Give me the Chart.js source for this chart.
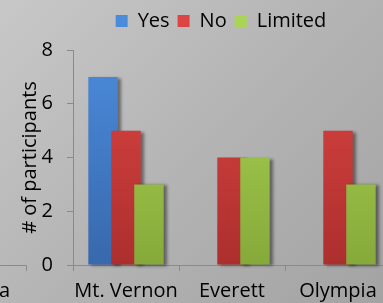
<!DOCTYPE html>
<html>
<head>
<meta charset="utf-8">
<script src="https://cdn.jsdelivr.net/npm/chart.js@4/dist/chart.umd.min.js"></script>
<style>
html,body{margin:0;padding:0;width:383px;height:303px;overflow:hidden;}
body{background:linear-gradient(135deg,#c8c8c8 0%,#b4b4b4 50%,#a3a3a3 100%);}
#wrap{position:absolute;left:0;top:0;width:442px;height:303px;}
</style>
</head>
<body>
<div id="wrap"><canvas id="c" width="442" height="303"></canvas></div>
<script>
const categories = ["Mt. Vernon", "Everett", "Olympia"];
const seriesNames = ["Yes", "No", "Limited"];
const yesValues = [7, 0, 0];
const noValues = [5, 4, 5];
const limitedValues = [3, 4, 3];
const yTicks = [0, 2, 4, 6, 8];

const FONT = "'Open Sans'";
const FSIZE = 20;
const palette = [
  ["#4b8bdb", "#3868ad"],
  ["#dc4543", "#ac2f2e"],
  ["#aad453", "#86aa3a"]
];

function grad(i) {
  return function(ctx) {
    const chart = ctx.chart;
    const a = chart.chartArea;
    if (!a) return palette[i][0];
    const g = chart.ctx.createLinearGradient(0, a.top, 0, a.bottom);
    g.addColorStop(0, palette[i][0]);
    g.addColorStop(1, palette[i][1]);
    return g;
  };
}

const orderedDraw = {
  id: "orderedDraw",
  beforeDatasetsDraw(chart) {
    const ctx = chart.ctx;
    for (let i = 0; i < chart.data.datasets.length; i++) {
      const meta = chart.getDatasetMeta(i);
      if (!meta.visible) continue;
      ctx.save();
      ctx.shadowColor = "rgba(0,0,0,0.45)";
      ctx.shadowOffsetX = 3;
      ctx.shadowOffsetY = 1;
      ctx.shadowBlur = 3;
      meta.controller.draw();
      ctx.restore();
    }
    return false;
  }
};

const legendTweak = {
  id: "legendTweak",
  beforeInit(chart) {
    const lg = chart.legend;
    if (!lg) return;
    const fit = lg.fit.bind(lg);
    lg.fit = function() { fit(); this.height += 9; };
  },
  afterLayout(chart) {
    const lg = chart.legend;
    if (!lg) return;
    lg.left += 18;
    lg.right += 18;
  }
};

const leftFragment = {
  id: "leftFragment",
  afterDraw(chart) {
    const ctx = chart.ctx;
    const y = chart.scales.y.getPixelForValue(0);
    ctx.save();
    ctx.strokeStyle = "#8a8a8a";
    ctx.lineWidth = 1;
    ctx.beginPath();
    ctx.moveTo(0, Math.round(y) + 0.5);
    ctx.lineTo(26.5, Math.round(y) + 0.5);
    ctx.lineTo(26.5, Math.round(y) + 6);
    ctx.stroke();
    ctx.fillStyle = "#000";
    ctx.font = FSIZE + "px " + FONT;
    ctx.textAlign = "right";
    ctx.textBaseline = "middle";
    ctx.fillText("a", 10, y + 26);
    ctx.restore();
  }
};

const datasetValues = [yesValues, noValues, limitedValues];

new Chart(document.getElementById("c"), {
  type: "bar",
  data: {
    labels: categories,
    datasets: seriesNames.map((n, i) => ({
      label: n,
      data: datasetValues[i],
      backgroundColor: grad(i),
      borderWidth: 0,
      categoryPercentage: 0.65,
      barPercentage: 1.28
    }))
  },
  options: {
    responsive: false,
    animation: false,
    layout: { padding: { left: 15, right: 51, top: 3, bottom: 0 } },
    plugins: {
      legend: {
        position: "top",
        labels: {
          font: { family: FONT, size: FSIZE },
          color: "#000",
          boxWidth: 12,
          boxHeight: 12,
          padding: 8
        }
      },
      tooltip: { enabled: false }
    },
    scales: {
      x: {
        afterFit(scale) { scale.height = 38; },
        grid: { offset: true, drawOnChartArea: false, tickLength: 6, color: "#8a8a8a" },
        border: { color: "#8a8a8a" },
        ticks: { font: { family: FONT, size: FSIZE }, color: "#000", padding: 8, maxRotation: 0, minRotation: 0, autoSkip: false }
      },
      y: {
        min: 0,
        max: 8,
        afterBuildTicks(scale) { scale.ticks = yTicks.map(v => ({ value: v })); },
        afterFit(scale) { scale.width = 58; },
        grid: { drawOnChartArea: false, tickLength: 6, color: "#8a8a8a" },
        border: { color: "#8a8a8a" },
        ticks: { font: { family: FONT, size: FSIZE }, color: "#000", padding: 14 },
        title: {
          display: true,
          text: "# of participants",
          font: { family: FONT, size: FSIZE },
          color: "#000",
          padding: { top: 3, bottom: 1 }
        }
      }
    }
  },
  plugins: [orderedDraw, legendTweak, leftFragment]
});
</script>
</body>
</html>
